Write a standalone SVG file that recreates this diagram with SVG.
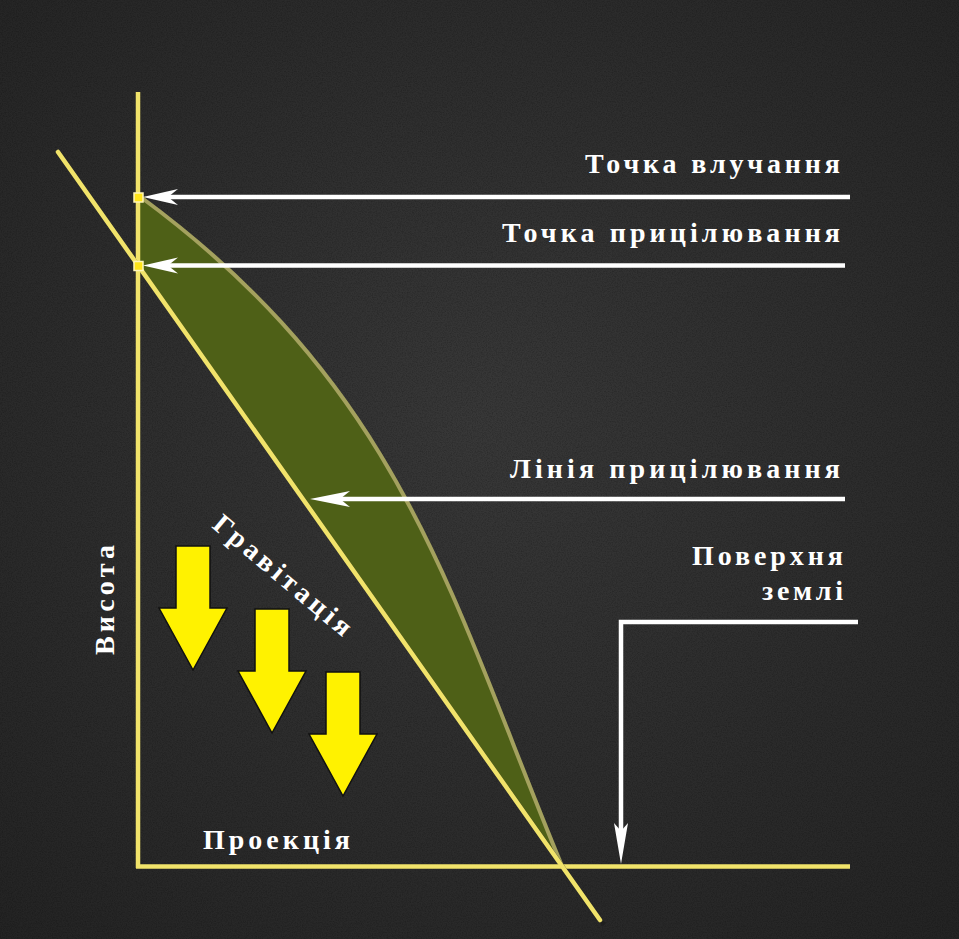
<svg xmlns="http://www.w3.org/2000/svg" width="959" height="939" viewBox="0 0 959 939">
  <defs>
    <radialGradient id="bg" cx="0.5" cy="0.45" r="0.75">
      <stop offset="0" stop-color="#383838"/>
      <stop offset="1" stop-color="#232323"/>
    </radialGradient>
    <filter id="noise" x="0" y="0" width="100%" height="100%">
      <feTurbulence type="fractalNoise" baseFrequency="0.8" numOctaves="3" seed="3" result="n"/>
      <feColorMatrix type="matrix" values="0 0 0 0 0  0 0 0 0 0  0 0 0 0 0  0 0 0 -1.6 1.0"/>
    </filter>
    <path id="garrow" d="M-17,0 H17 V62 H34 L0,124 L-34,62 H-17 Z"/>
    <style>
      .lbl { font-family: "Liberation Serif", "DejaVu Serif", serif; font-weight: bold; fill: #ffffff; font-size: 28px; }
      .axis { stroke: #f1e36a; stroke-width: 4.5; fill: none; }
      .wline { stroke: #ffffff; stroke-width: 4.5; fill: none; }
      .whead { fill: #ffffff; }
      .grav { fill: #fff200; stroke: #111111; stroke-width: 1.5; }
      .mark { fill: #ffe41a; stroke: #fff6b8; stroke-width: 1.5; }
    </style>
  </defs>

  <rect width="959" height="939" fill="url(#bg)"/>
  <rect width="959" height="939" filter="url(#noise)" opacity="0.25"/>

  <g id="trajectory">
    <path d="M142,198 C405,392 452,602 562,866 L138,266 L140,200 Z" fill="#4e6017"/>
    <path d="M142,198 C405,392 452,602 562,866" fill="none" stroke="#a4a15e" stroke-width="4"/>
  </g>

  <g id="axes">
    <line class="axis" x1="138" y1="92" x2="138" y2="868"/>
    <line class="axis" x1="136" y1="866.5" x2="850" y2="866.5"/>
    <line x1="61" y1="156" x2="604" y2="925" stroke="#1a1a1a" stroke-width="4" opacity="0.6"/>
    <line class="axis" x1="58" y1="152" x2="600" y2="920" stroke-linecap="round"/>
  </g>

  <g id="markers">
    <rect class="mark" x="134" y="193" width="9" height="9"/>
    <rect class="mark" x="134" y="261.5" width="9" height="9"/>
  </g>

  <g id="connectors">
    <line class="wline" x1="166" y1="197" x2="850" y2="197"/>
    <path class="whead" d="M143,197 L178,189 L168,197 L178,205 Z"/>
    <line class="wline" x1="166" y1="265.5" x2="845" y2="265.5"/>
    <path class="whead" d="M143,265.5 L178,257.5 L168,265.5 L178,273.5 Z"/>
    <line class="wline" x1="340" y1="499" x2="845" y2="499"/>
    <path class="whead" d="M310,499 L350,491 L340,499 L350,507 Z"/>
    <polyline class="wline" points="858,622 621,622 621,832" stroke-linejoin="miter"/>
    <path class="whead" d="M621,864 L614,823 L621,831 L628,823 Z"/>
  </g>

  <g id="gravity-arrows">
    <use href="#garrow" class="grav" transform="translate(193,546)"/>
    <use href="#garrow" class="grav" transform="translate(272,609)"/>
    <use href="#garrow" class="grav" transform="translate(343,672)"/>
  </g>

  <g id="label-impact"><text class="lbl" x="585" y="173" textLength="255" lengthAdjust="spacing">Точка влучання</text></g>
  <g id="label-aim"><text class="lbl" x="502" y="242" textLength="338" lengthAdjust="spacing">Точка прицілювання</text></g>
  <g id="label-aimline"><text class="lbl" x="510" y="478" textLength="330" lengthAdjust="spacing">Лінія прицілювання</text></g>
  <g id="label-surface">
    <text class="lbl" x="692" y="565" textLength="151" lengthAdjust="spacing">Поверхня</text>
    <text class="lbl" x="762" y="600" textLength="81" lengthAdjust="spacing">землі</text>
  </g>
  <g id="label-projection"><text class="lbl" x="203" y="849" textLength="147" lengthAdjust="spacing">Проекція</text></g>
  <g id="label-height"><text class="lbl" transform="translate(114,655) rotate(-90)" textLength="110" lengthAdjust="spacing">Висота</text></g>
  <g id="label-gravity"><text class="lbl" transform="translate(211,527) rotate(40)" textLength="172" lengthAdjust="spacing">Гравітація</text></g>
</svg>
